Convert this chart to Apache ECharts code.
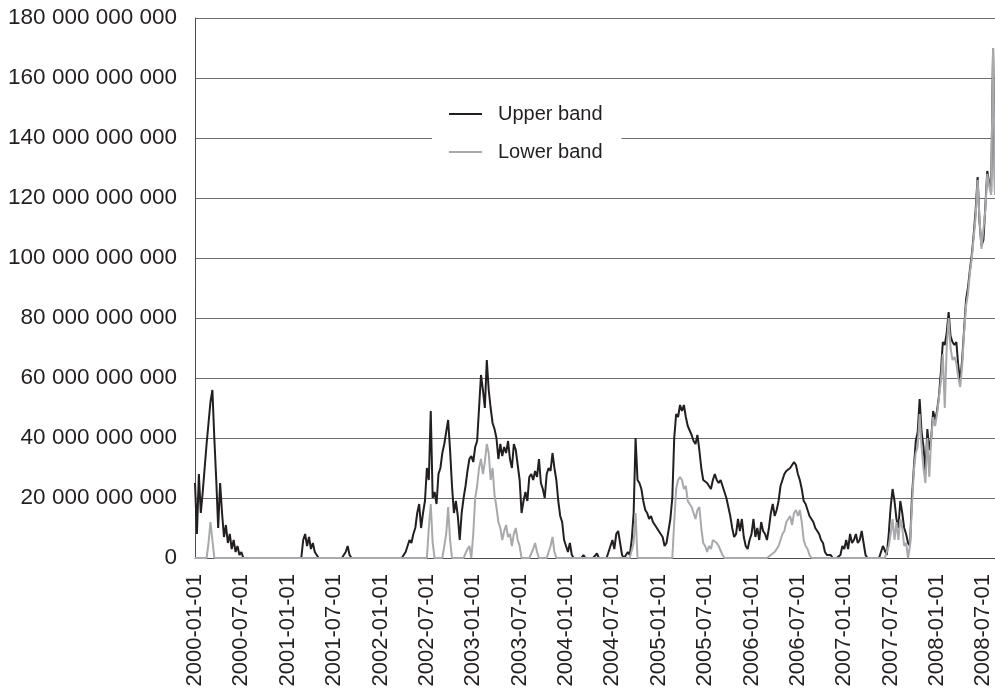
<!DOCTYPE html>
<html>
<head>
<meta charset="utf-8">
<title>Upper and lower band</title>
<script src="https://cdn.jsdelivr.net/npm/echarts@6/dist/echarts.min.js"></script>
<style>
  html, body { margin: 0; padding: 0; background: #ffffff; }
  #chart { width: 995px; height: 697px; }
</style>
</head>
<body>
<div id="chart"></div>
<script>
// Sampled four times per month (1st, 8th, 16th, 23rd), Jan 2000 - mid Aug 2008.
// Values in billions.
const upperBand = [
  25,8,28,15,22,30,38,45,52,56,40,26,10,25,15,7,11,5,8,3,6,2,4,1,
  2,0,0,0,0,0,0,0,0,0,0,0,0,0,0,0,0,0,0,0,0,0,0,0,
  0,0,0,0,0,0,0,0,6,8,4,7,3,5,2,1,0,0,0,0,0,0,0,0,
  0,0,0,0,0,0,2,4,1,0,0,0,0,0,0,0,0,0,0,0,0,0,0,0,
  0,0,0,0,0,0,0,0,0,0,0,0,1,2,4,6,5,8,10,15,18,10,15,19,
  30,26,49,20,22,18,28,30,35,38,42,46,36,24,15,19,14,6,15,20,24,29,33,34,
  32,37,39,50,61,56,50,66,56,50,45,43,40,33,38,34,37,35,39,33,30,38,36,31,
  26,15,19,22,19,27,28,26,29,27,33,25,23,20,28,30,29,35,30,26,19,14,12,6,
  4,2,5,1,0,0,0,0,0,1,0,0,0,0,0,0,1.5,0,0,0,0,0,2,4,
  6,3,8,9,5,1,0,0,2,1,6,15,40,26,25,23,19,16,15,13,14,12,11,10,
  9,9,7,4,5,9,13,20,40,48,47,51,49,51,47,44,44,41,39,38,41,36,30,26,
  26,25,24,23,26,28,26,25,26,24,22,20,17,14,10,7,8,13,9,13,7,4,3,6,
  8,13,7,10,6,12,9,8,6,10,15,18,14,16,19,24,26,28,29,29,30,30,32,31,
  28,26,23,19,18,16,14,13,12,10,9,8,6,5,2,1,1,1,0,0,0,0,1,4,
  3,6,3,8,5,6,8,5,6,9,5,1,0,0,0,0,0,0,0,0,4,4,1,8,
  17,23,19,13,10,19,15,10,8,5,4,20,30,39,42,53,42,37,28,43,36,40,49,46,
  49,54,62,72,71,75,82,74,72,71,72,64,59,66,76,86,90,96,101,108,116,127,112,104,
  106,117,129,125,122,170,121
];

const lowerBand = [
  0,0,0,0,0,0,0,5,12,6,0,0,0,0,0,0,0,0,0,0,0,0,0,0,
  0,0,0,0,0,0,0,0,0,0,0,0,0,0,0,0,0,0,0,0,0,0,0,0,
  0,0,0,0,0,0,0,0,0,0,0,0,0,0,0,0,0,0,0,0,0,0,0,0,
  0,0,0,0,0,0,0,0,0,0,0,0,0,0,0,0,0,0,0,0,0,0,0,0,
  0,0,0,0,0,0,0,0,0,0,0,0,0,0,0,0,0,0,0,0,0,0,0,0,
  0,10,18,5,0,0,0,0,0,0,8,17,6,0,0,0,0,0,0,0,0,3,4,0,
  8,20,24,30,33,28,32,38,35,26,30,21,17,12,10,6,9,11,7,8,4,8,10,6,
  4,0,0,0,0,0,0,3,5,2,0,0,0,0,0,0,4,7,2,0,0,0,0,0,
  0,0,0,0,0,0,0,0,0,0,0,0,0,0,0,0,0,0,0,0,0,0,0,0,
  0,0,0,0,0,0,0,0,0,0,0,5,15,0,0,0,0,0,0,0,0,0,0,0,
  0,0,0,0,0,0,0,0,12,23,26,27,26,23,24,19,19,17,15,13,16,17,10,5,
  4,2,4,3,6,6,5,4,4,1,0,0,0,0,0,0,0,0,0,0,0,0,0,0,
  0,0,0,0,0,0,0,0,0,0,1,1,2,3,4,6,8,9,12,13,14,11,15,16,
  14,16,12,6,4,3,1,0,0,0,0,0,0,0,0,0,0,0,0,0,0,0,0,0,
  0,0,0,0,0,0,0,0,0,0,0,0,0,0,0,0,0,0,0,0,0,0,0,4,
  8,13,6,12,6,13,10,4,5,0,4,17,29,35,37,48,37,30,25,40,27,40,47,44,
  48,48,59,68,50,70,80,70,66,67,65,60,57,64,75,84,88,95,100,107,114,126,113,103,
  103,116,128,124,121,170,121
];

const xTickLabels = [
  '2000-01-01','2000-07-01','2001-01-01','2001-07-01','2002-01-01','2002-07-01',
  '2003-01-01','2003-07-01','2004-01-01','2004-07-01','2005-01-01','2005-07-01',
  '2006-01-01','2006-07-01','2007-01-01','2007-07-01','2008-01-01','2008-07-01'
];

const sampleDays = ['01', '08', '16', '23'];

// Date for every sample: four per month from January 2000 on.
const dates = [];
for (let y = 2000; dates.length < upperBand.length; y++) {
  for (let m = 1; m <= 12 && dates.length < upperBand.length; m++) {
    for (const d of sampleDays) {
      if (dates.length >= upperBand.length) break;
      dates.push(y + '-' + String(m).padStart(2, '0') + '-' + d);
    }
  }
}

const BILLION = 1e9;
const FONT = '"Liberation Sans", Arial, sans-serif';
const TEXT = '#231f20';

function groupDigits(v) {
  return String(Math.round(v)).replace(/\B(?=(\d{3})+(?!\d))/g, ' ');
}

const chart = echarts.init(document.getElementById('chart'), null, { renderer: 'canvas' });

chart.setOption({
  animation: false,
  backgroundColor: '#ffffff',
  textStyle: { fontFamily: FONT, color: TEXT },
  grid: { left: 195, right: 0, top: 18, bottom: 139 },
  legend: {
    orient: 'vertical',
    left: 432,
    top: 92,
    padding: [12, 19, 12, 17],
    itemGap: 18,
    itemWidth: 33,
    itemHeight: 2,
    icon: 'rect',
    backgroundColor: '#ffffff',
    textStyle: { fontSize: 20, color: TEXT, fontFamily: FONT, padding: [0, 0, 0, 11] },
    data: ['Upper band', 'Lower band']
  },
  xAxis: {
    type: 'category',
    data: dates,
    boundaryGap: false,
    axisLine: { show: true, lineStyle: { color: '#4d4d4f', width: 1 } },
    axisTick: { show: false },
    splitLine: { show: false },
    axisLabel: {
      rotate: 90,
      margin: 16,
      fontSize: 22,
      color: TEXT,
      fontFamily: FONT,
      interval: function (index, value) { return xTickLabels.indexOf(value) !== -1; }
    }
  },
  yAxis: {
    type: 'value',
    min: 0,
    max: 180 * BILLION,
    interval: 20 * BILLION,
    axisLine: { show: true, lineStyle: { color: '#4d4d4f', width: 1 } },
    axisTick: { show: false },
    splitLine: { show: true, lineStyle: { color: '#6d6e71', width: 1 } },
    axisLabel: {
      margin: 18,
      fontSize: 22.5,
      color: TEXT,
      fontFamily: FONT,
      formatter: groupDigits
    }
  },
  series: [
    {
      name: 'Upper band',
      type: 'line',
      data: upperBand.map(v => v * BILLION),
      showSymbol: false,
      symbol: 'none',
      color: '#231f20',
      lineStyle: { color: '#231f20', width: 2 },
      sampling: null
    },
    {
      name: 'Lower band',
      type: 'line',
      data: lowerBand.map(v => v * BILLION),
      showSymbol: false,
      symbol: 'none',
      color: '#a7a9ac',
      lineStyle: { color: '#a7a9ac', width: 2 },
      sampling: null
    }
  ]
});
</script>
</body>
</html>
